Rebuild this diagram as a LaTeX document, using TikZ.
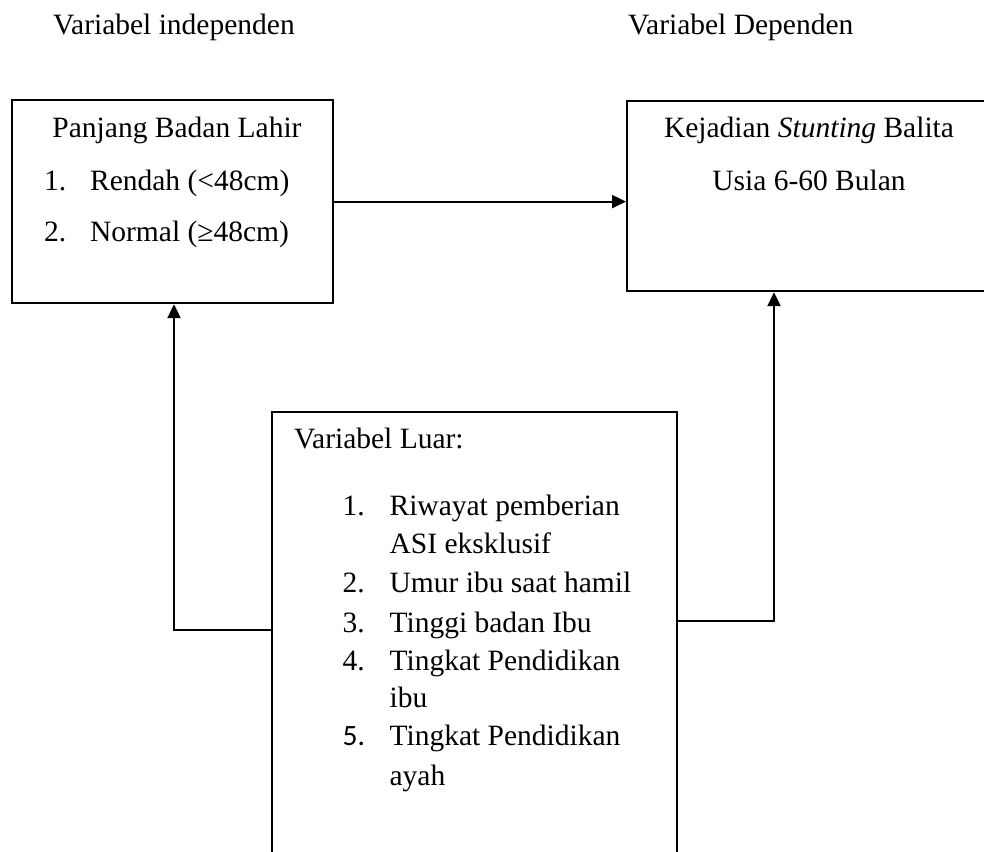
\documentclass[tikz,border=0pt]{standalone}
\usepackage{fontspec}
\setmainfont{Liberation Serif}
\newfontfamily\numfont{Carlito}
\usetikzlibrary{arrows.meta}

\begin{document}
\begin{tikzpicture}[x=1pt, y=-1pt, line width=2.2pt,
  box/.style={draw, anchor=north west, inner sep=0pt},
  txt/.style={inner sep=0pt, anchor=base west, font=\fontsize{29.5}{36}\selectfont},
  ctxt/.style={txt, anchor=base},
  arr/.style={-{Triangle[length=14pt,width=13pt]}}]
  \useasboundingbox (0,0) rectangle (984,851);
  \clip (0,0) rectangle (984,851);

  \node[txt] (indep) at (52,35) {Variabel independen};
  \node[txt] (dep) at (627,35) {Variabel Dependen};

  \node[box, minimum width=321pt, minimum height=203pt] (panjang) at (11,99) {};
  \node[box, minimum width=400pt, minimum height=190pt] (kejadian) at (626,100) {};
  \node[box, minimum width=405pt, minimum height=500pt] (luar) at (271,411) {};

  \node[ctxt] (pjudul) at (177,137) {Panjang Badan Lahir};
  \node[txt] (pn1) at (43,190) {1.};
  \node[txt] (pt1) at (89,190) {Rendah (<48cm)};
  \node[txt] (pn2) at (43,241) {2.};
  \node[txt] (pt2) at (89,241) {Normal (≥48cm)};

  \node[ctxt] (kjudul) at (809,137) {Kejadian \textit{Stunting} Balita};
  \node[ctxt] (kusia) at (809,190) {Usia 6-60 Bulan};

  \node[txt] (ljudul) at (293,448) {Variabel Luar:};
  \node[txt] (ln1) at (341.5,515) {1.};
  \node[txt] (lt1) at (388.5,515) {Riwayat pemberian};
  \node[txt] (lt1b) at (388.5,553) {ASI eksklusif};
  \node[txt] (ln2) at (341.5,592) {2.};
  \node[txt] (lt2) at (388.5,592) {Umur ibu saat hamil};
  \node[txt] (ln3) at (341.5,632) {3.};
  \node[txt] (lt3) at (388.5,632) {Tinggi badan Ibu};
  \node[txt] (ln4) at (341.5,670) {4.};
  \node[txt] (lt4) at (388.5,670) {Tingkat Pendidikan};
  \node[txt] (lt4b) at (388.5,707) {ibu};
  \node[txt] (ln5) at (341.5,745) {\numfont 5.};
  \node[txt] (lt5) at (388.5,745) {Tingkat Pendidikan};
  \node[txt] (lt5b) at (388.5,785) {ayah};

  \coordinate (lsiku) at (174,630);
  \coordinate (rsiku) at (774,621);

  \draw[arr] (panjang.east) -- (panjang.east -| kejadian.west);
  \draw[arr] (luar.west |- lsiku) -- (lsiku) -- (lsiku |- panjang.south);
  \draw[arr] (luar.east |- rsiku) -- (rsiku) -- (rsiku |- kejadian.south);
\end{tikzpicture}
\end{document}
